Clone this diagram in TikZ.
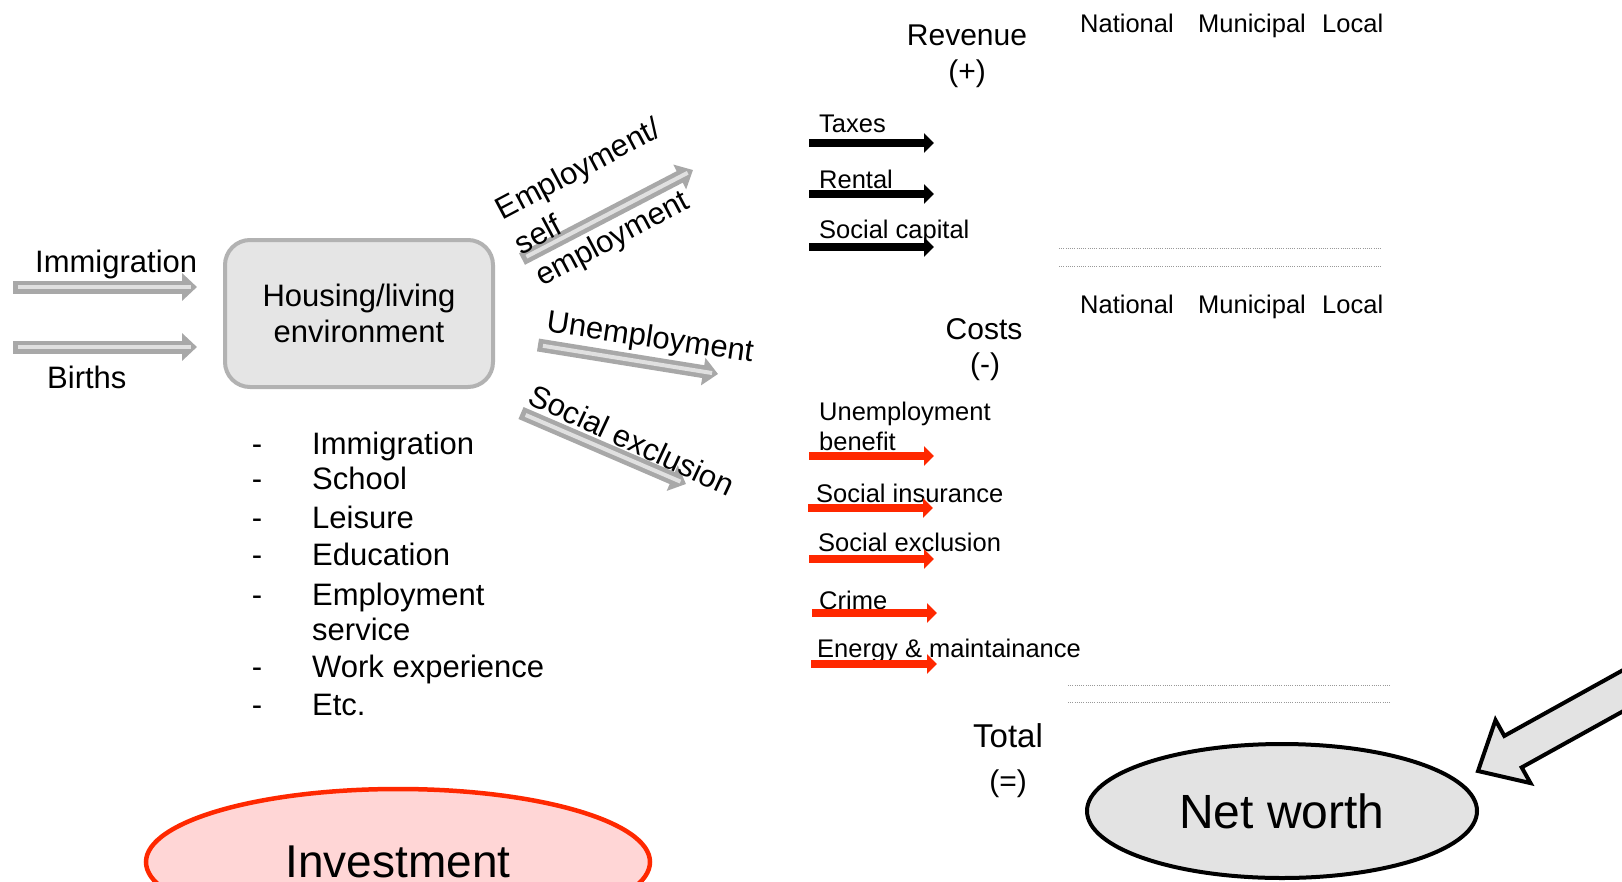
\documentclass[tikz,border=0pt]{standalone}
\usepackage{fontspec}
\setmainfont{Liberation Sans}
\usetikzlibrary{arrows.meta,shapes.geometric,calc}
\definecolor{agray}{RGB}{168,168,168}
\definecolor{alight}{RGB}{224,224,224}
\definecolor{boxfill}{RGB}{229,229,229}
\definecolor{boxline}{RGB}{178,178,178}
\definecolor{ared}{RGB}{255,40,0}
\definecolor{pinkfill}{RGB}{255,214,214}
\definecolor{nwfill}{RGB}{227,227,227}
\newcommand{\grarrow}[2]{%
  \draw[garrow] (#1) -- (#2);
  \draw[ginner] ($(#1)!5pt!(#2)$) -- ($(#2)!6pt!(#1)$);}
\begin{document}
\begin{tikzpicture}[x=1pt,y=-1pt,
  lbl/.style={inner sep=0pt, font=\fontsize{31}{36}\selectfont},
  sml/.style={inner sep=0pt, anchor=base west, font=\fontsize{25.5}{30}\selectfont},
  head/.style={inner sep=0pt, anchor=base, font=\fontsize{30}{36}\selectfont},
  garrow/.style={draw=agray, line width=13pt, -{Triangle[length=15pt,width=27pt]}},
  ginner/.style={draw=alight, line width=4pt},
  barrow/.style={draw=black, line width=8.5pt, -{Triangle[length=10pt,width=19pt]}},
  rarrow/.style={draw=ared, line width=8.5pt, -{Triangle[length=10pt,width=19pt]}},
  dotline/.style={draw=gray!80, line width=0.9pt, dash pattern=on 1pt off 1.2pt},
  hbox/.style={draw=boxline, line width=4pt, fill=boxfill, rounded corners=25pt,
    minimum width=268pt, minimum height=147pt, align=center, inner sep=0pt,
    font=\fontsize{31}{36}\selectfont}
]
\useasboundingbox (0,0) rectangle (1622,881);
\clip (0,0) rectangle (1622,881);

% left inputs
\node[lbl, anchor=base west] (immlbl) at (35,272) {Immigration};
\node[lbl, anchor=base west] (birlbl) at (47,388) {Births};
\coordinate (immA) at (13,287); \coordinate (immB) at (197,287);
\coordinate (birA) at (13,347); \coordinate (birB) at (197,347);
\grarrow{immA}{immB}
\grarrow{birA}{birB}

% housing box
\node[hbox] (house) at (359,313.5) {Housing/living\\environment};

% list
\foreach \y/\t [count=\i] in {454/Immigration, 489/School, 528/Leisure, 565/Education, 605/Employment, 677/Work experience, 715/Etc.}{
  \node[lbl, anchor=base] (dash\i) at (257,\y) {-};
  \node[lbl, anchor=base west] (item\i) at (312,\y) {\t};
}
\node[lbl, anchor=base west] (itemsvc) at (312,640) {service};

% diagonal arrows
\coordinate (empA) at (522,259); \coordinate (empB) at (693,170);
\coordinate (unA) at (538,345); \coordinate (unB) at (718,374);
\coordinate (scA) at (521,413); \coordinate (scB) at (686,484);
\grarrow{empA}{empB}
\grarrow{unA}{unB}
\grarrow{scA}{scB}
\node[lbl, rotate=28] (emp1) at (579,171) {Employment/};
\node[lbl, rotate=28] (emp2) at (538,234) {self};
\node[lbl, rotate=28] (emp3) at (613,240) {employment};
\node[lbl, rotate=-8.4] (unlbl) at (650,339) {Unemployment};
\node[lbl, rotate=-25] (sclbl) at (632,440) {Social exclusion};

% revenue
\node[head] (rev) at (967,45) {Revenue};
\node[head] (revp) at (967,81) {(+)};
\foreach \x/\t/\n in {1080/National/na, 1198/Municipal/mu, 1322/Local/lo}{
  \node[sml] (\n1) at (\x,32) {\t};
  \node[sml] (\n2) at (\x,313) {\t};
}
\node[sml] (taxl) at (819,132) {Taxes};
\node[sml] (rentl) at (819,188) {Rental};
\node[sml] (socl) at (819,238) {Social capital};
\foreach \n/\y in {tax/143, rent/194, soc/247}{
  \coordinate (\n A) at (809,\y); \coordinate (\n B) at (934,\y);
  \draw[barrow] (\n A) -- (\n B);
}
\coordinate (d1a) at (1059,248); \coordinate (d1b) at (1382,248);
\coordinate (d2a) at (1059,266); \coordinate (d2b) at (1382,266);
\draw[dotline] (d1a) -- (d1b);
\draw[dotline] (d2a) -- (d2b);

% costs
\node[head] (cost) at (984,339) {Costs};
\node[head] (costm) at (985,374) {(-)};
\node[sml] (c1a) at (819,420) {Unemployment};
\node[sml] (c1b) at (819,450) {benefit};
\node[sml] (c2) at (816,502) {Social insurance};
\node[sml] (c3) at (818,551) {Social exclusion};
\node[sml] (c4) at (819,609) {Crime};
\node[sml] (c5) at (817,657) {Energy \& maintainance};
\foreach \n/\y/\xa/\xb in {r1/456/809/934, r2/508/808/933, r3/559/809/934, r4/613/812/937, r5/664/811/937}{
  \coordinate (\n A) at (\xa,\y); \coordinate (\n B) at (\xb,\y);
  \draw[rarrow] (\n A) -- (\n B);
}
\coordinate (d3a) at (1068,685); \coordinate (d3b) at (1390,685);
\coordinate (d4a) at (1068,702); \coordinate (d4b) at (1390,702);
\draw[dotline] (d3a) -- (d3b);
\draw[dotline] (d4a) -- (d4b);

% total
\node[head, font=\fontsize{33}{38}\selectfont] (tot) at (1008,747) {Total};
\node[head] (tote) at (1008,791) {(=)};

% net worth
\node[ellipse, draw=black, line width=4pt, fill=nwfill, minimum width=390pt, minimum height=134pt,
  inner sep=0pt, font=\fontsize{48}{52}\selectfont] (nw) at (1282,811) {Net worth};
\draw[line width=4pt, fill=nwfill, line join=miter]
  (1478,771) -- (1530.5,783.1) -- (1521.7,767.4) -- (1784.2,621.9) -- (1766.8,590.4)
  -- (1504.3,735.9) -- (1495.5,720.1) -- cycle;

% investment
\node[ellipse, draw=ared, line width=4.5pt, fill=pinkfill, minimum width=504pt, minimum height=146pt,
  inner sep=0pt, font=\fontsize{46}{50}\selectfont] (inv) at (398,862) {Investment};
\end{tikzpicture}
\end{document}
